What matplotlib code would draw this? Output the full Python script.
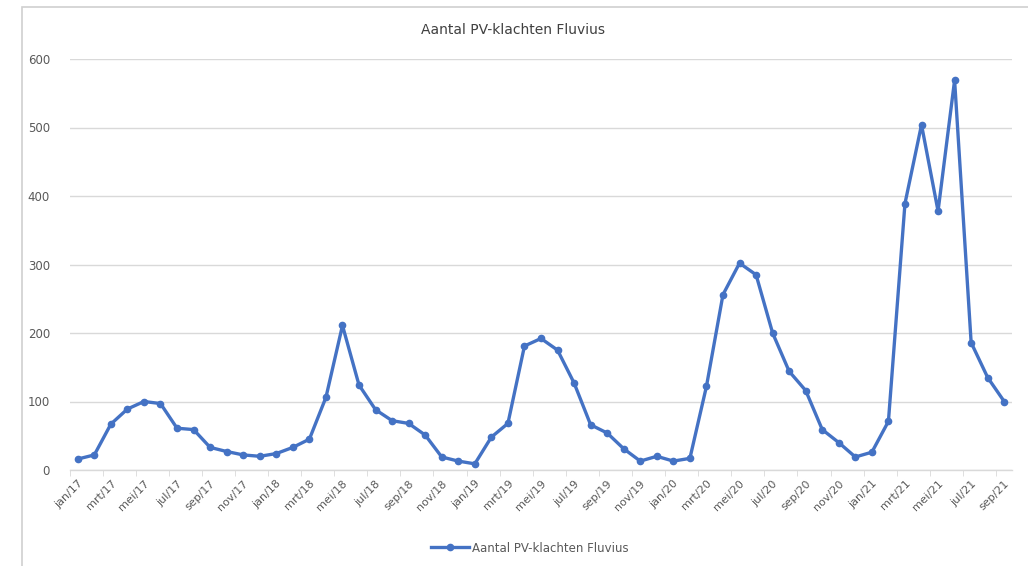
import matplotlib
matplotlib.use("Agg")
import matplotlib.pyplot as plt
from matplotlib.patches import Rectangle
import numpy as np

months = ["jan", "feb", "mrt", "apr", "mei", "jun", "jul", "aug", "sep", "okt", "nov", "dec"]
years = ["17", "18", "19", "20", "21"]
categories = [f"{m}/{y}" for y in years for m in months][:57]

values = [16, 22, 67, 89, 100, 97, 61, 59, 33, 27, 22, 20, 24, 33, 45, 106, 211,
          124, 88, 72, 68, 51, 19, 13, 9, 48, 68, 181, 192, 175, 127, 66, 54, 31, 13, 20, 13,
          17, 122, 256, 302, 285, 200, 144, 116, 59, 40, 19, 26, 71, 389, 504, 378, 569,
          186, 135, 100]
series_name = "Aantal PV-klachten Fluvius"
title = "Aantal PV-klachten Fluvius"

W, H = 1028, 566
fig = plt.figure(figsize=(W / 100, H / 100), dpi=100)
ax = fig.add_axes([69.5 / W, 1 - 470 / H, (1012.5 - 69.5) / W, (470 - 59) / H])

# chart border
fig.patches.append(Rectangle((22 / W, -0.01), 1.1, 1 - 7 / H + 0.01, transform=fig.transFigure,
                             fill=False, edgecolor="#D0D0D0", linewidth=1.2))

x = np.arange(len(values))
blue = "#4472C4"
ax.plot(x, values, color=blue, linewidth=2.4, marker="o", markersize=4.5,
        markerfacecolor=blue, markeredgecolor=blue, label=series_name)

ax.set_xlim(-0.5, len(values) - 0.5)
ax.set_ylim(0, 600)
ax.set_yticks(range(0, 601, 100))
ax.yaxis.grid(True, color="#D9D9D9", linewidth=1.0)
ax.set_axisbelow(True)
for s in ["top", "right", "left"]:
    ax.spines[s].set_visible(False)
ax.spines["bottom"].set_color("#D9D9D9")
ax.spines["bottom"].set_linewidth(1.0)

ax.set_xticks(x[::2])
ax.set_xticklabels(categories[::2], rotation=45, ha="right", rotation_mode="anchor",
                   fontsize=8, color="#595959")
ax.set_xticks(np.arange(-0.5, len(values), 2), minor=True)
ax.tick_params(axis="x", which="major", length=0, pad=6)
ax.tick_params(axis="x", which="minor", length=4, color="#D9D9D9")
ax.tick_params(axis="y", length=0, labelsize=8.5, labelcolor="#595959", pad=14)

fig.text(513 / W, 1 - 30 / H, title, ha="center", va="center", fontsize=10, color="#404040")

leg = fig.legend(loc="center", bbox_to_anchor=(530 / W, 1 - 548 / H), frameon=False,
                 fontsize=8.5, handlelength=3.2, handletextpad=0.3)
for t in leg.get_texts():
    t.set_color("#595959")

fig.savefig("out.png", dpi=100)
